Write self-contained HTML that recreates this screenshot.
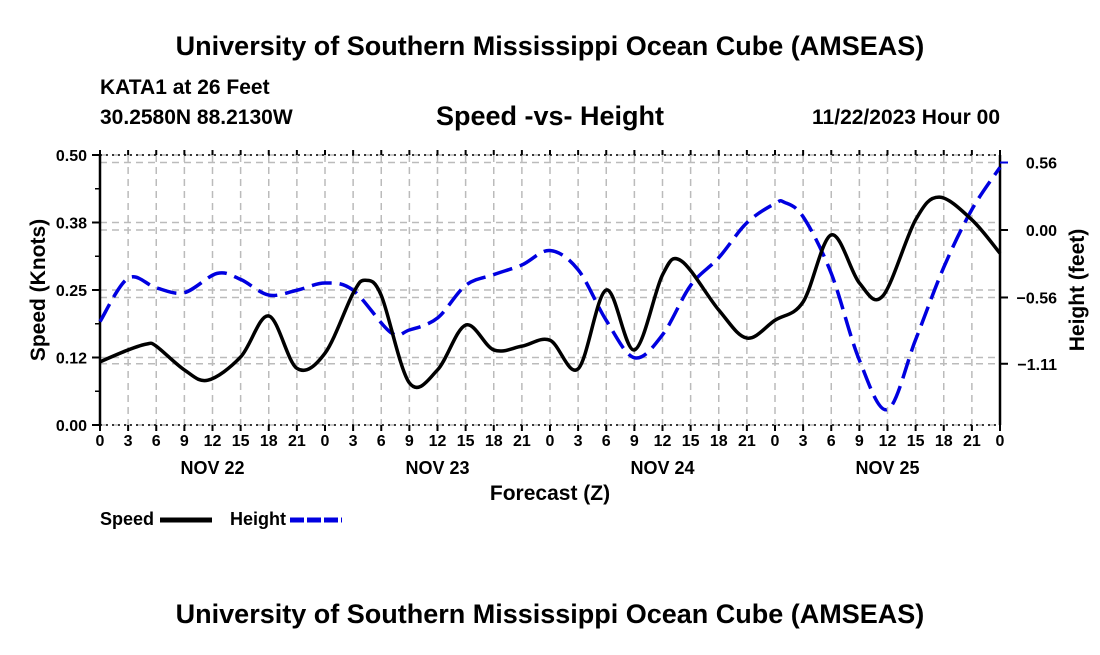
<!DOCTYPE html>
<html><head><meta charset="utf-8"><style>
body{margin:0;background:#fff;width:1100px;height:650px;overflow:hidden}
svg{font-family:"Liberation Sans",sans-serif;font-weight:bold}
</style></head><body>
<svg id="c" width="1100" height="650">
<text x="550" y="55" font-size="27" text-anchor="middle">University of Southern Mississippi Ocean Cube (AMSEAS)</text>
<text x="100" y="94" font-size="21">KATA1 at 26 Feet</text>
<text x="100" y="124" font-size="21">30.2580N  88.2130W</text>
<text x="550" y="125" font-size="27" text-anchor="middle">Speed -vs- Height</text>
<text x="1000" y="124" font-size="21" text-anchor="end">11/22/2023 Hour 00</text>
<g id="grid"></g>
<g id="axes"></g>
<g id="series"></g>
<text x="550" y="500" font-size="21" text-anchor="middle">Forecast (Z)</text>
<text transform="translate(45,290) rotate(-90)" font-size="21" text-anchor="middle">Speed (Knots)</text>
<text transform="translate(1084,290) rotate(-90)" font-size="21" text-anchor="middle">Height (feet)</text>
<g>
<text x="100" y="525" font-size="18">Speed</text>
<line x1="160" y1="520" x2="212" y2="520" stroke="#000" stroke-width="5"/>
<text x="230" y="525" font-size="18">Height</text>
<line x1="290" y1="520" x2="342" y2="520" stroke="#0000e0" stroke-width="5" stroke-dasharray="14,3"/>
</g>
<text x="550" y="623" font-size="27" text-anchor="middle">University of Southern Mississippi Ocean Cube (AMSEAS)</text>
</svg>
<script>
const speedHours=[0,3,5,6,9,11.5,15,18,21,24,27,28.3,30,33,36,39,42,45,48,51,54,57,60,62,66,69,72,75,78,81,83.5,87,89.5,93,96];
const speedVals=[0.117,0.139,0.15,0.146,0.102,0.083,0.126,0.202,0.105,0.133,0.244,0.268,0.24,0.078,0.102,0.185,0.139,0.146,0.157,0.104,0.25,0.139,0.278,0.304,0.213,0.161,0.194,0.228,0.352,0.263,0.239,0.38,0.422,0.38,0.318];
const heightHours=[0,3,6,9,12.5,15,18,21,24,27,31,33,36,39,42,45,48,51,54,57,60,63,66,69,72,73,75,78,81,84,87,90,93,96];
const heightVals=[-0.76,-0.40,-0.48,-0.52,-0.36,-0.41,-0.54,-0.50,-0.44,-0.50,-0.85,-0.83,-0.73,-0.46,-0.37,-0.29,-0.17,-0.33,-0.75,-1.06,-0.87,-0.46,-0.23,0.06,0.22,0.23,0.11,-0.36,-1.08,-1.49,-0.91,-0.31,0.17,0.52];
const leftTicks=[0,0.125,0.25,0.375,0.5];
const leftLabels=["0.00","0.12","0.25","0.38","0.50"];
const rightTicks=[0.56,0,-0.56,-1.11];
const rightLabels=["0.56","0.00","\u22120.56","\u22121.11"];
const hourLabels=["0","3","6","9","12","15","18","21"];
const dayLabels=["NOV 22","NOV 23","NOV 24","NOV 25"];
const NS="http://www.w3.org/2000/svg";
const L=100,R=1000,T=155,B=425;
const x=h=>L+h*(R-L)/96;
const yS=v=>B-v*(B-T)/0.5;
const yH=v=>230-v*120.5;
function mk(tag,attrs,parent){const e=document.createElementNS(NS,tag);for(const k in attrs)e.setAttribute(k,attrs[k]);parent.appendChild(e);return e;}
const grid=document.getElementById('grid'),axes=document.getElementById('axes'),series=document.getElementById('series');
for(let h=3;h<96;h+=3){const g=mk('line',{x1:x(h),x2:x(h),y1:T,y2:B,stroke:'#bbb','stroke-width':1.5,'stroke-dasharray':'7,5'},grid);

}
leftTicks.forEach(v=>{const g=mk('line',{x1:L,x2:R,y1:yS(v),y2:yS(v),stroke:'#bbb','stroke-width':1.5,'stroke-dasharray':'7,5'},grid);

});
rightTicks.forEach(v=>{const g=mk('line',{x1:L,x2:R,y1:yH(v),y2:yH(v),stroke:'#bbb','stroke-width':1.5,'stroke-dasharray':'7,5'},grid);

});
[[L,T,L,B,2.5,''],[R,T,R,B,2.5,''],[L,T,R,T,1.5,'2,4'],[L,B,R,B,1.5,'2,4']].forEach(a=>{const l=mk('line',{x1:a[0],y1:a[1],x2:a[2],y2:a[3],stroke:'#000','stroke-width':a[4],'stroke-dasharray':a[5]},axes);

});
leftTicks.forEach((v,i)=>{const y=yS(v);mk('line',{x1:L-8,x2:L,y1:y,y2:y,stroke:'#000','stroke-width':2},axes);
const t=mk('text',{x:L-13,y:y+6,'font-size':16,'text-anchor':'end'},axes);t.textContent=leftLabels[i];

});
[0.0625,0.1875,0.3125,0.4375].forEach(v=>mk('line',{x1:L-5,x2:L,y1:yS(v),y2:yS(v),stroke:'#000','stroke-width':1.5},axes));
rightTicks.forEach((v,i)=>{const y=yH(v);mk('line',{x1:R,x2:R+8,y1:y,y2:y,stroke:i==0?'#0000e0':'#000','stroke-width':2},axes);
const t=mk('text',{x:R+57,y:y+6,'font-size':16,'text-anchor':'end'},axes);t.textContent=rightLabels[i];

});
for(let h=0;h<=96;h+=3){mk('line',{x1:x(h),x2:x(h),y1:B,y2:B+6,stroke:'#000','stroke-width':2},axes);mk('line',{x1:x(h),x2:x(h),y1:T-5,y2:T,stroke:'#000','stroke-width':2},axes);
const t=mk('text',{x:x(h),y:B+21,'font-size':16,'text-anchor':'middle'},axes);t.textContent=hourLabels[(h/3)%8];

}
dayLabels.forEach((d,i)=>{const t=mk('text',{x:x(12+24*i),y:474,'font-size':18,'text-anchor':'middle'},axes);t.textContent=d;

});
function path(hs,vs,yf){const p=hs.map((h,i)=>[x(h),yf(vs[i])]);let d='M'+p[0][0]+','+p[0][1];
for(let i=0;i<p.length-1;i++){const p0=p[Math.max(i-1,0)],p1=p[i],p2=p[i+1],p3=p[Math.min(i+2,p.length-1)];
const c1=[p1[0]+(p2[0]-p0[0])/6,p1[1]+(p2[1]-p0[1])/6],c2=[p2[0]-(p3[0]-p1[0])/6,p2[1]-(p3[1]-p1[1])/6];
d+=` C${c1[0]},${c1[1]} ${c2[0]},${c2[1]} ${p2[0]},${p2[1]}`;}return d;}
const hp=mk('path',{d:path(heightHours,heightVals,yH),fill:'none',stroke:'#0000e0','stroke-width':3.5,'stroke-dasharray':'20,8'},series);


const sp=mk('path',{d:path(speedHours,speedVals,yS),fill:'none',stroke:'#000','stroke-width':3.5},series);


</script>
</body></html>
